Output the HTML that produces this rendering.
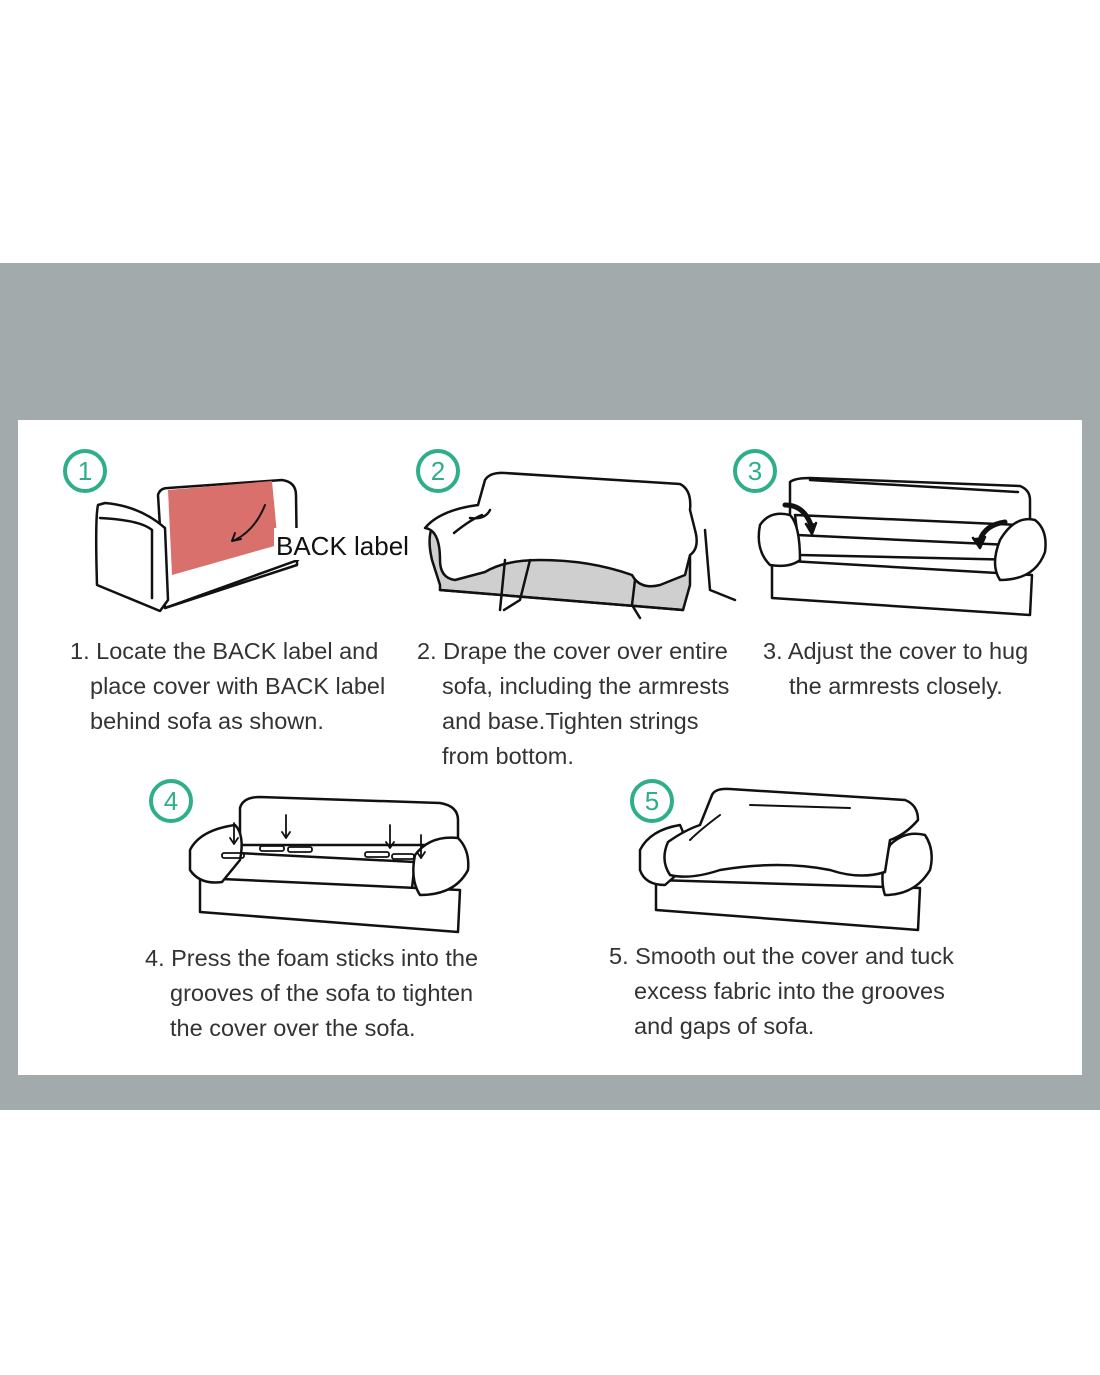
<!DOCTYPE html>
<html><head><meta charset="utf-8"><style>
html,body{margin:0;padding:0;background:#fff;}
body{width:1100px;height:1375px;position:relative;overflow:hidden;font-family:"Liberation Sans",sans-serif;}
.band{position:absolute;left:0;top:263px;width:1100px;height:847px;background:#a3aaac;}
.panel{position:absolute;left:18px;top:420px;width:1064px;height:655px;background:#fff;}
.t{position:absolute;font-size:23.5px;color:#333;line-height:35px;white-space:nowrap;}
svg{position:absolute;left:0;top:0;}
</style></head><body>
<div class="band"></div>
<div class="panel"></div>
<svg width="1100" height="1375" viewBox="0 0 1100 1375" fill="none" stroke="#111" stroke-width="2.5" stroke-linejoin="round" stroke-linecap="round">
<g stroke="#2fae8a" stroke-width="4">
<circle cx="85" cy="471" r="20"/><circle cx="438" cy="471" r="20"/><circle cx="755" cy="471" r="20"/><circle cx="171" cy="801" r="20"/><circle cx="652" cy="801" r="20"/>
</g>
<g font-family="Liberation Sans,sans-serif" font-size="26" fill="#2fae8a" stroke="none" text-anchor="middle">
<text x="85" y="480">1</text><text x="438" y="480">2</text><text x="755" y="480">3</text><text x="171" y="810">4</text><text x="652" y="810">5</text>
</g>
<!-- sofa 1 -->
<path d="M158,495 Q160,488 168,488 L282,480 Q296,482 296,495 L297,565 L165,608 Z" fill="#fff"/>
<path d="M168,490 L272,481 L278,545 L172,575 Z" fill="#d9706c" stroke="none"/>
<path d="M265,505 Q255,530 235,540" stroke-width="2"/><path d="M232,541 l9,-2 M232,541 l3,-8" stroke-width="2"/>
<path d="M98,505 Q95,518 97,585 L160,611 L168,600 L165,528 Q140,506 105,503 Z" fill="#fff"/>
<path d="M100,518 Q140,520 152,530 L152,598"/>
<path d="M165,608 L298,560"/>
<rect x="274" y="528" width="132" height="32" fill="#fff" stroke="none"/>
<text x="276" y="555" font-family="Liberation Sans,sans-serif" font-size="26" fill="#111" stroke="none">BACK label</text>
<!-- sofa 2 -->
<path d="M438,520 Q425,530 432,560 L440,585 L440,590 L683,610 L690,585 L690,540 Q686,525 665,525 Z" fill="#cfcfcf"/>
<path d="M440,590 L683,610"/>
<path d="M485,480 Q490,472 505,473 L680,484 Q692,490 690,510 L695,530 Q700,548 690,555 L685,575 L660,585 Q640,590 632,575 Q590,560 540,560 Q505,560 485,572 L455,580 Q440,578 440,560 Q440,530 425,528 Q440,510 478,505 Z" fill="#fff"/>
<path d="M470,518 Q485,520 490,510 M454,533 Q470,520 482,515"/>
<path d="M505,560 L500,610 M530,560 L520,600 L504,610 M635,580 L632,605 L640,618 M705,530 L710,590 L735,600" stroke-width="2.5"/>
<!-- sofa 3 -->
<path d="M790,482 Q795,478 810,478 L1020,486 Q1030,490 1030,500 L1030,525 L790,525 Z" fill="#fff"/>
<path d="M810,480 L1018,492"/>
<path d="M795,515 L1020,525 L1020,560 L800,555 Z" fill="#fff"/>
<path d="M797,535 L1010,545"/>
<path d="M772,560 L772,598 L1030,615 L1032,575 Z" fill="#fff"/>
<path d="M760,525 Q770,510 790,515 Q800,525 800,560 Q790,568 770,565 Q755,550 760,525 Z" fill="#fff"/>
<path d="M1000,540 Q1015,515 1035,520 Q1048,530 1045,552 Q1035,580 1000,580 Q990,565 1000,540 Z" fill="#fff"/>
<path d="M785,505 Q805,505 812,528" stroke-width="5"/><path d="M806,524 l6,10 l4,-11" fill="#111"/>
<path d="M1005,522 Q985,525 980,540" stroke-width="5"/><path d="M973,538 l7,10 l5,-11" fill="#111"/>
<!-- sofa 4 -->
<path d="M240,808 Q243,797 260,797 L440,803 Q458,806 458,820 L458,845 L240,845 Z" fill="#fff"/>
<path d="M218,852 L415,862 L410,905 L215,895 Z" fill="#fff"/>
<path d="M200,878 L200,912 L458,932 L460,890 Z" fill="#fff"/>
<path d="M190,850 Q200,830 235,825 Q245,835 240,860 L222,882 Q200,885 190,870 Z" fill="#fff"/>
<path d="M415,855 Q430,835 458,838 Q470,850 468,870 Q455,895 420,895 Q410,880 415,855 Z" fill="#fff"/>
<g stroke-width="1.8"><rect x="222" y="853" width="22" height="5" rx="2"/><rect x="260" y="846" width="24" height="5" rx="2"/><rect x="288" y="847" width="24" height="5" rx="2"/><rect x="365" y="852" width="24" height="5" rx="2"/><rect x="392" y="854" width="22" height="5" rx="2"/>
<path d="M234,823 L234,843 M286,815 L286,837 M390,825 L390,847 M421,835 L421,858"/>
<path d="M230,838 l4,6 l4,-6 M282,832 l4,6 l4,-6 M386,842 l4,6 l4,-6 M417,852 l4,6 l4,-6"/></g>
<!-- sofa 5 -->
<path d="M656,880 L656,910 L918,930 L920,888 Z" fill="#fff"/>
<path d="M640,850 Q650,830 680,825 Q690,845 682,870 L665,885 Q645,885 640,870 Z" fill="#fff"/>
<path d="M890,845 Q905,830 925,835 Q935,850 930,870 Q915,895 885,895 Q878,875 890,845 Z" fill="#fff"/>
<path d="M712,795 Q715,788 730,789 L905,800 Q918,805 918,820 Q905,835 890,840 L885,872 Q860,880 830,870 Q780,860 720,870 Q690,880 670,875 Q660,860 668,842 Q685,830 700,825 Z" fill="#fff"/>
<path d="M750,805 L850,808 M690,840 Q700,830 720,815" stroke-width="2"/>
</svg>
<div class="t" style="left:70px;top:634px">1. Locate the BACK label and<br><span style="padding-left:20px">place cover with BACK label</span><br><span style="padding-left:20px">behind sofa as shown.</span></div>
<div class="t" style="left:417px;top:634px">2. Drape the cover over entire<br><span style="padding-left:25px">sofa, including the armrests</span><br><span style="padding-left:25px">and base.Tighten strings</span><br><span style="padding-left:25px">from bottom.</span></div>
<div class="t" style="left:763px;top:634px">3. Adjust the cover to hug<br><span style="padding-left:26px">the armrests closely.</span></div>
<div class="t" style="left:145px;top:941px">4. Press the foam sticks into the<br><span style="padding-left:25px">grooves of the sofa to tighten</span><br><span style="padding-left:25px">the cover over the sofa.</span></div>
<div class="t" style="left:609px;top:939px">5. Smooth out the cover and tuck<br><span style="padding-left:25px">excess fabric into the grooves</span><br><span style="padding-left:25px">and gaps of sofa.</span></div>
</body></html>
